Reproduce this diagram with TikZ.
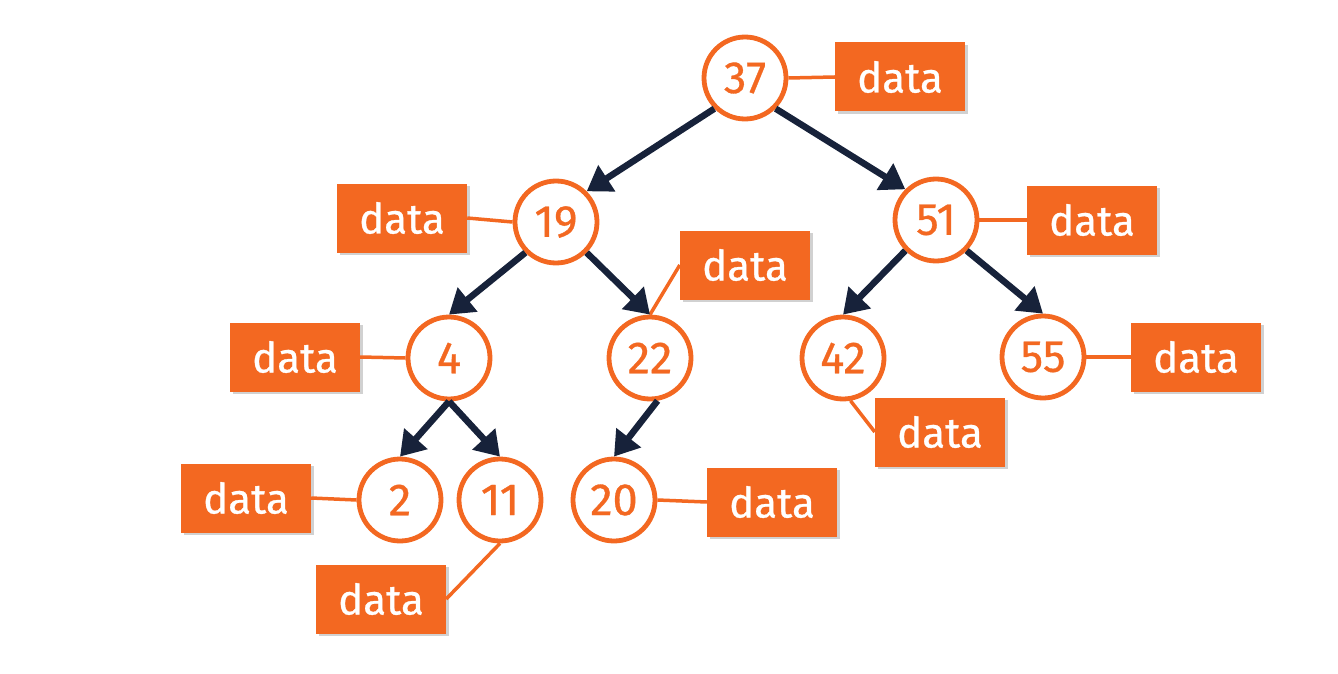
\documentclass[tikz,border=0pt]{standalone}
\usepackage{fontspec}
\setmainfont{Fira Sans}[FakeBold=0.7]
\usetikzlibrary{arrows.meta,shadows}
\definecolor{org}{HTML}{F36821}
\definecolor{navy}{HTML}{17223A}
\begin{document}
\begin{tikzpicture}[x=1pt,y=-1pt,
  keynode/.style={circle,draw=org,line width=4.8pt,fill=white,minimum size=82pt,inner sep=0pt,text=org,font=\fontsize{45}{45}\selectfont},
  databox/.style={rectangle,fill=org,minimum width=130pt,minimum height=69pt,inner sep=0pt,text=white,font=\fontsize{42}{42}\selectfont,
     drop shadow={shadow xshift=2.5pt,shadow yshift=-2.5pt,opacity=0.3,fill=black!60}},
  link/.style={draw=org,line width=3.5pt},
  edge/.style={draw=navy,line width=6.5pt,-{Triangle[length=24pt,width=30pt]}}]
\useasboundingbox (0,0) rectangle (1338,674);
% keys
\node[keynode] (n37) at (745,78) {37};
\node[keynode] (n19) at (556,222) {19};
\node[keynode] (n51) at (936,220) {51};
\node[keynode] (n4) at (449,358) {4};
\node[keynode] (n22) at (650,358) {22};
\node[keynode] (n42) at (843,358) {42};
\node[keynode] (n55) at (1043,357) {55};
\node[keynode] (n2) at (400,500) {2};
\node[keynode] (n11) at (500,500) {11};
\node[keynode] (n20) at (614,500) {20};
% data boxes
\node[databox] (d37) at (900,77) {data};
\node[databox] (d19) at (402,218) {data};
\node[databox] (d22) at (745,265) {data};
\node[databox] (d51) at (1092,220) {data};
\node[databox] (d4) at (295,357) {data};
\node[databox] (d55) at (1196,357) {data};
\node[databox] (d42) at (940,432) {data};
\node[databox] (d2) at (246,498) {data};
\node[databox] (d20) at (772,502) {data};
\node[databox] (d11) at (381,599) {data};
% links
\draw[link] (n37.east) -- (d37.west);
\draw[link] (n19.west) -- (d19.east);
\draw[link] (n22.north) -- (d22.west);
\draw[link] (n51.east) -- (d51.west);
\draw[link] (n4.west) -- (d4.east);
\draw[link] (n55.east) -- (d55.west);
\draw[link] (n42.-80) -- (d42.west);
\draw[link] (n2.west) -- (d2.east);
\draw[link] (n20.east) -- (d20.west);
\draw[link] (n11.south) -- (d11.east);
% edges
\draw[edge] (n37.-135) -- (n19.45);
\draw[edge] (n37.-45) -- (n51.135);
\draw[edge] (n19.-135) -- (n4.north);
\draw[edge] (n19.-45) -- (n22.north);
\draw[edge] (n51.-135) -- (n42.north);
\draw[edge] (n51.-45) -- (n55.north);
\draw[edge] (n4.south) -- (n2.north);
\draw[edge] (n4.south) -- (n11.north);
\draw[edge] (n22.-80) -- (n20.north);
\end{tikzpicture}
\end{document}
